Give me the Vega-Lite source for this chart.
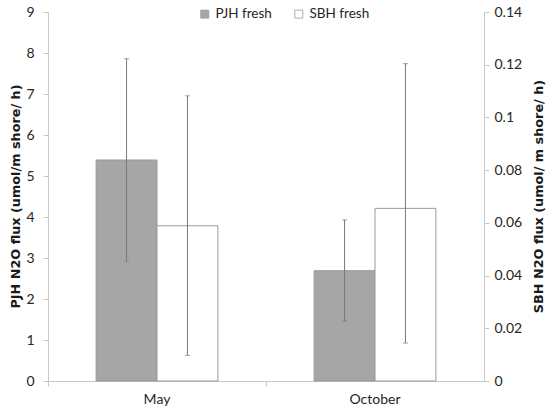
{
  "$schema": "https://vega.github.io/schema/vega-lite/v6.json",
  "width": 436,
  "height": 369,
  "autosize": {"type": "none"},
  "padding": {"left": 48, "top": 12, "right": 66, "bottom": 32},
  "background": "white",
  "config": {
    "view": {"stroke": null},
    "font": "Lato",
    "axis": {
      "grid": false,
      "domainColor": "#c8c8c8",
      "tickColor": "#c8c8c8",
      "tickSize": 5,
      "labelColor": "#262626",
      "labelFont": "Lato",
      "labelFontSize": 14,
      "titleFont": "DejaVu Sans",
      "titleFontSize": 12.8,
      "titleFontWeight": "bold",
      "titleColor": "#1a1a1a"
    },
    "legend": {
      "labelFont": "Lato",
      "labelFontSize": 13.5,
      "labelColor": "#262626"
    }
  },
  "datasets": {
    "d": [
      {"Month": "May", "Series": "PJH fresh", "value": 5.39, "lo": 2.92, "hi": 7.86},
      {"Month": "October", "Series": "PJH fresh", "value": 2.69, "lo": 1.46, "hi": 3.93},
      {"Month": "May", "Series": "SBH fresh", "value": 0.0589, "lo": 0.0097, "hi": 0.1082},
      {"Month": "October", "Series": "SBH fresh", "value": 0.0655, "lo": 0.0144, "hi": 0.1204}
    ]
  },
  "data": {"name": "d"},
  "encoding": {
    "x": {
      "field": "Month",
      "type": "nominal",
      "sort": ["May", "October"],
      "scale": {"paddingInner": 0, "paddingOuter": 0},
      "axis": {
        "title": null,
        "bandPosition": 0,
        "labelAngle": 0,
        "labelPadding": 6,
        "tickExtra": true
      }
    },
    "xOffset": {
      "field": "Series",
      "type": "nominal",
      "sort": ["PJH fresh", "SBH fresh"],
      "scale": {"paddingInner": 0, "paddingOuter": 0.79}
    }
  },
  "layer": [
    {
      "transform": [{"filter": "datum.Series === 'PJH fresh'"}],
      "layer": [
        {
          "mark": {"type": "bar", "stroke": "#999999", "strokeWidth": 1},
          "encoding": {
            "y": {
              "field": "value",
              "type": "quantitative",
              "scale": {"domain": [0, 9], "nice": false},
              "axis": {
                "orient": "left",
                "values": [0, 1, 2, 3, 4, 5, 6, 7, 8, 9],
                "title": "PJH N2O flux (umol/m shore/ h)",
                "labelPadding": 9,
                "titleAngle": 270,
                "titleX": -33,
                "titleY": 184,
                "titleAlign": "center",
                "titleBaseline": "middle"
              }
            },
            "color": {
              "field": "Series",
              "type": "nominal",
              "scale": {"domain": ["PJH fresh", "SBH fresh"], "range": ["#a6a6a6", "#ffffff"]},
              "legend": {
                "title": null,
                "orient": "none",
                "direction": "horizontal",
                "legendX": 150,
                "legendY": -5,
                "symbolType": "square",
                "symbolSize": 64,
                "symbolStrokeColor": "#8c8c8c",
                "symbolStrokeWidth": 0.8,
                "labelOffset": 4,
                "columnPadding": 20
              }
            }
          }
        },
        {
          "mark": {"type": "rule", "color": "#7a7a7a", "strokeWidth": 1},
          "encoding": {
            "y": {"field": "lo", "type": "quantitative", "scale": {"domain": [0, 9], "nice": false}},
            "y2": {"field": "hi"}
          }
        },
        {
          "mark": {"type": "tick", "color": "#7a7a7a", "thickness": 1, "size": 5},
          "encoding": {
            "y": {"field": "lo", "type": "quantitative", "scale": {"domain": [0, 9], "nice": false}}
          }
        },
        {
          "mark": {"type": "tick", "color": "#7a7a7a", "thickness": 1, "size": 5},
          "encoding": {
            "y": {"field": "hi", "type": "quantitative", "scale": {"domain": [0, 9], "nice": false}}
          }
        }
      ]
    },
    {
      "transform": [{"filter": "datum.Series === 'SBH fresh'"}],
      "layer": [
        {
          "mark": {"type": "bar", "stroke": "#999999", "strokeWidth": 1},
          "encoding": {
            "y": {
              "field": "value",
              "type": "quantitative",
              "scale": {"domain": [0, 0.14], "nice": false},
              "axis": {
                "orient": "right",
                "values": [0, 0.02, 0.04, 0.06, 0.08, 0.1, 0.12, 0.14],
                "format": "~g",
                "title": "SBH N2O flux (umol/ m shore/ h)",
                "labelPadding": 5,
                "titleAngle": 270,
                "titleX": 54,
                "titleY": 184,
                "titleAlign": "center",
                "titleBaseline": "middle"
              }
            },
            "color": {"field": "Series", "type": "nominal"}
          }
        },
        {
          "mark": {"type": "rule", "color": "#7a7a7a", "strokeWidth": 1},
          "encoding": {
            "y": {"field": "lo", "type": "quantitative", "scale": {"domain": [0, 0.14], "nice": false}},
            "y2": {"field": "hi"}
          }
        },
        {
          "mark": {"type": "tick", "color": "#7a7a7a", "thickness": 1, "size": 5},
          "encoding": {
            "y": {"field": "lo", "type": "quantitative", "scale": {"domain": [0, 0.14], "nice": false}}
          }
        },
        {
          "mark": {"type": "tick", "color": "#7a7a7a", "thickness": 1, "size": 5},
          "encoding": {
            "y": {"field": "hi", "type": "quantitative", "scale": {"domain": [0, 0.14], "nice": false}}
          }
        }
      ]
    }
  ],
  "resolve": {"scale": {"y": "independent"}}
}
